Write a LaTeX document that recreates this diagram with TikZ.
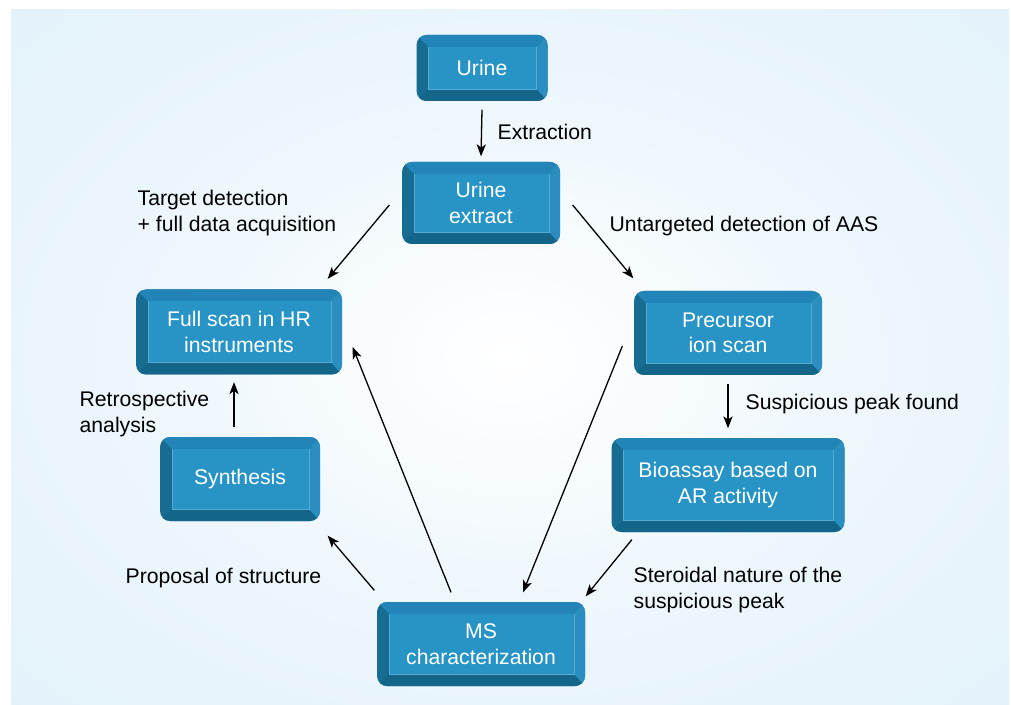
\documentclass[tikz,border=0pt]{standalone}
\usepackage{fontspec}
\setmainfont{Liberation Sans}
\usetikzlibrary{arrows.meta}

\definecolor{boxface}{HTML}{2893C5}
\definecolor{boxtop}{HTML}{2385B7}
\definecolor{boxright}{HTML}{2A8EC0}
\definecolor{boxleft}{HTML}{166C91}
\definecolor{boxbottom}{HTML}{13658A}
\definecolor{boxrim}{HTML}{5AA9D3}
\definecolor{bgmid}{HTML}{ECF6FC}
\definecolor{bgblue}{HTML}{DBEEF9}

\pgfdeclareradialshading{bgglow}{\pgfpoint{0bp}{0bp}}{color(0bp)=(white); color(20bp)=(bgmid); color(50bp)=(bgblue); color(75bp)=(bgblue)}

\newcommand{\txtsize}{\fontsize{10.6}{12.8}\selectfont}

\begin{document}
\begin{tikzpicture}[x=0.5pt,y=-0.5pt,>={Stealth[length=6pt,width=4.6pt,inset=1.6pt]},
                    line width=0.65pt,
                    main box/.style={rectangle,rounded corners=5pt,fill=boxleft,text=white,
                      align=center,inner sep=0pt,font=\txtsize,
                      path picture={
                        \fill[sharp corners,boxbottom] (path picture bounding box.south west)
                          -- (path picture bounding box.south east)
                          -- ([shift={(-5.5pt,6pt)}]path picture bounding box.south east)
                          -- ([shift={(6pt,6pt)}]path picture bounding box.south west) -- cycle;
                        \fill[sharp corners,boxtop] (path picture bounding box.north west)
                          -- (path picture bounding box.north east)
                          -- ([shift={(-5.5pt,-6pt)}]path picture bounding box.north east)
                          -- ([shift={(6pt,-6pt)}]path picture bounding box.north west) -- cycle;
                        \fill[sharp corners,boxright] (path picture bounding box.north east)
                          -- (path picture bounding box.south east)
                          -- ([shift={(-5.5pt,6pt)}]path picture bounding box.south east)
                          -- ([shift={(-5.5pt,-6pt)}]path picture bounding box.north east) -- cycle;
                        \fill[sharp corners,boxface]
                          ([shift={(6pt,6pt)}]path picture bounding box.south west)
                          rectangle ([shift={(-5.5pt,-6pt)}]path picture bounding box.north east);
                        \draw[sharp corners,boxrim,line width=0.35pt]
                          ([shift={(6pt,-6pt)}]path picture bounding box.north west)
                          |- ([shift={(-5.5pt,6pt)}]path picture bounding box.south east)
                          -- ([shift={(-5.5pt,-6pt)}]path picture bounding box.north east);
                      }},
                    note/.style={anchor=west,align=left,inner sep=0pt,font=\txtsize}]

  \useasboundingbox (0,0) rectangle (1011,705);
  \shade[shading=bgglow] (11,10) rectangle (1009,705);

  % boxes
  \node[main box,minimum width=65.5pt,minimum height=33pt] (urine) at (482,68) {Urine};
  \node[main box,minimum width=79pt,minimum height=41pt] (extract) at (481,203) {Urine\\extract};
  \node[main box,minimum width=103pt,minimum height=42.5pt] (fullscan) at (239,332) {Full scan in HR\\instruments};
  \node[main box,minimum width=94pt,minimum height=42pt] (precursor) at (728,333) {Precursor\\ion scan};
  \node[main box,minimum width=80pt,minimum height=42pt] (synthesis) at (240,479) {Synthesis};
  \node[main box,minimum width=116.5pt,minimum height=47pt] (bioassay) at (728,485) {Bioassay based on\\AR activity};
  \node[main box,minimum width=104pt,minimum height=42pt] (ms) at (481,644) {MS\\characterization};

  % labels
  \node[note] (extraction) at (497,132) {Extraction};
  \node[note] (target) at (137,213) {Target detection\\+ full data acquisition};
  \node[note] (untargeted) at (609,226) {Untargeted detection of AAS};
  \node[note] (suspicious) at (745,404) {Suspicious peak found};
  \node[note] (retro) at (79,414) {Retrospective\\analysis};
  \node[note] (proposal) at (125,578) {Proposal of structure};
  \node[note] (steroidal) at (633,590) {Steroidal nature of the\\suspicious peak};

  % arrows
  \draw[->] ([shift={(0,8)}]urine.south) -- ([shift={(0,-5)}]extract.north);
  \draw[->] ([shift={(-12,2)}]extract.west) -- ([shift={(-15,-10)}]fullscan.north east);
  \draw[->] ([shift={(12,2)}]extract.east) -- ([shift={(0,-12)}]precursor.north west);
  \draw[->] ([shift={(0,8)}]precursor.south) -- ([shift={(0,-9)}]bioassay.north);
  \draw[->] ([shift={(21,7)}]bioassay.south west) -- ([shift={(0,-5)}]ms.north east);
  \draw[->] ([shift={(-11,13)}]precursor.west) -- ([shift={(42,-9)}]ms.north);
  \draw[->] ([shift={(-30,-9)}]ms.north) -- ([shift={(10,15)}]fullscan.east);
  \draw[->] ([shift={(-2,-11)}]ms.north west) -- ([shift={(7,14)}]synthesis.south east);
  \draw[->] ([shift={(-6,-9)}]synthesis.north) -- ([shift={(-5,7)}]fullscan.south);
\end{tikzpicture}
\end{document}
